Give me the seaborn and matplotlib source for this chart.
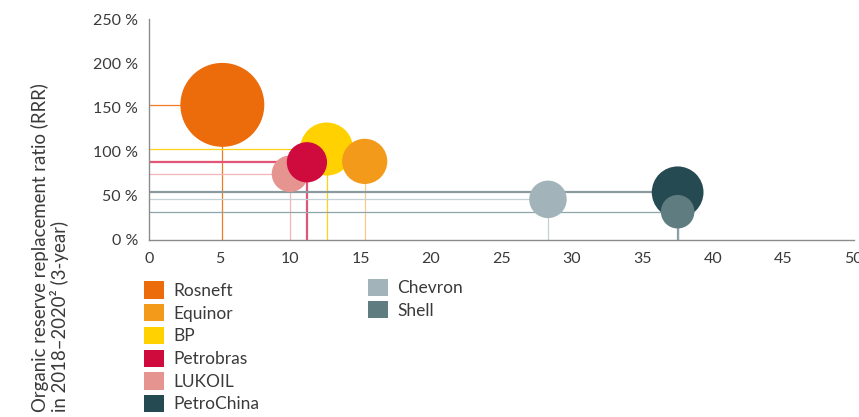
import pandas as pd
import seaborn as sns
import matplotlib.pyplot as plt
from matplotlib.patches import Patch

# data (legend order)
companies = ["Rosneft", "Equinor", "BP", "Petrobras", "LUKOIL", "PetroChina", "Chevron", "Shell"]
years_of_reserves = [5.2, 15.3, 12.6, 11.2, 10.0, 37.5, 28.3, 37.5]
rrr_pct = [153, 89, 103, 88, 75, 54, 46, 32]
bubble_weight = [100, 29, 40, 23, 19, 38, 20, 16]

# drawing order (later ones on top)
draw_order = ["Rosneft", "BP", "Equinor", "LUKOIL", "Petrobras", "Chevron", "PetroChina", "Shell"]

colors = {
    "Rosneft": "#EC6B0A",
    "Equinor": "#F39A1A",
    "BP": "#FFD100",
    "Petrobras": "#CF0A3C",
    "LUKOIL": "#E69490",
    "PetroChina": "#264A52",
    "Chevron": "#A2B4B9",
    "Shell": "#5F7C80",
}
line_colors = {
    "Rosneft": "#EF7A22",
    "Equinor": "#F9C98A",
    "BP": "#FFD21A",
    "Petrobras": "#E2557A",
    "LUKOIL": "#F3B6B6",
    "PetroChina": "#8A9A9E",
    "Chevron": "#C4D0D3",
    "Shell": "#8FA5AA",
}
line_widths = {"Petrobras": 1.6, "PetroChina": 1.6}

df = pd.DataFrame({"company": companies, "years": years_of_reserves,
                   "rrr": rrr_pct, "weight": bubble_weight})
df = df.set_index("company").loc[draw_order].reset_index()

sns.set_style("white")
plt.rcParams["font.family"] = ["Lato", "DejaVu Sans"]
text_col = "#3a3a3a"

fig = plt.figure(figsize=(8.59, 4.17), dpi=100)
ax = fig.add_axes([0.1735, 0.4245, 0.8205, 0.5295])

# guide lines to the axes
for _, r in df.iterrows():
    c = line_colors[r["company"]]
    lw = line_widths.get(r["company"], 0.9)
    ax.plot([0, r["years"]], [r["rrr"], r["rrr"]], color=c, lw=lw, zorder=1, solid_capstyle="butt")
    ax.plot([r["years"], r["years"]], [0, r["rrr"]], color=c, lw=lw, zorder=1, solid_capstyle="butt")

sns.scatterplot(data=df, x="years", y="rrr", hue="company", palette=colors,
                size="weight", sizes=(0, 3650), size_norm=(0, 100),
                linewidth=0, alpha=1, legend=False, ax=ax, zorder=3)

ax.set_xlim(0, 50)
ax.set_ylim(0, 250)
ax.set_xticks(range(0, 51, 5))
ax.set_yticks(range(0, 251, 50))
ax.set_yticklabels([f"{v} %" for v in range(0, 251, 50)])
ax.set_xlabel("")
ax.set_ylabel("")
for s in ["top", "right"]:
    ax.spines[s].set_visible(False)
for s in ["left", "bottom"]:
    ax.spines[s].set_color("#8c8c8c")
    ax.spines[s].set_linewidth(1.0)
    ax.spines[s].set_zorder(2)
ax.tick_params(axis="both", direction="out", length=4, width=1, color="#8c8c8c",
               labelsize=11.5, labelcolor=text_col)
ax.tick_params(axis="x", pad=5)
ax.tick_params(axis="y", pad=4)

fig.text(0.058, 0.012, "Organic reserve replacement ratio (RRR)\nin 2018\u20132020\u00b2 (3-year)",
         rotation=90, ha="center", va="bottom", multialignment="left",
         fontsize=13.4, color=text_col, linespacing=1.05)

# legend: two columns
def make_legend(names, anchor):
    handles = [Patch(facecolor=colors[n], edgecolor="none", label=n) for n in names]
    return fig.legend(handles=handles, loc="upper left", bbox_to_anchor=anchor,
                      frameon=False, fontsize=12.5, handlelength=1.15, handleheight=1.15,
                      handletextpad=0.55, labelspacing=0.3, borderaxespad=0,
                      borderpad=0, labelcolor=text_col)

make_legend(companies[:6], (0.168, 0.325))
make_legend(companies[6:], (0.428, 0.332))

plt.savefig("out.png", dpi=100)
